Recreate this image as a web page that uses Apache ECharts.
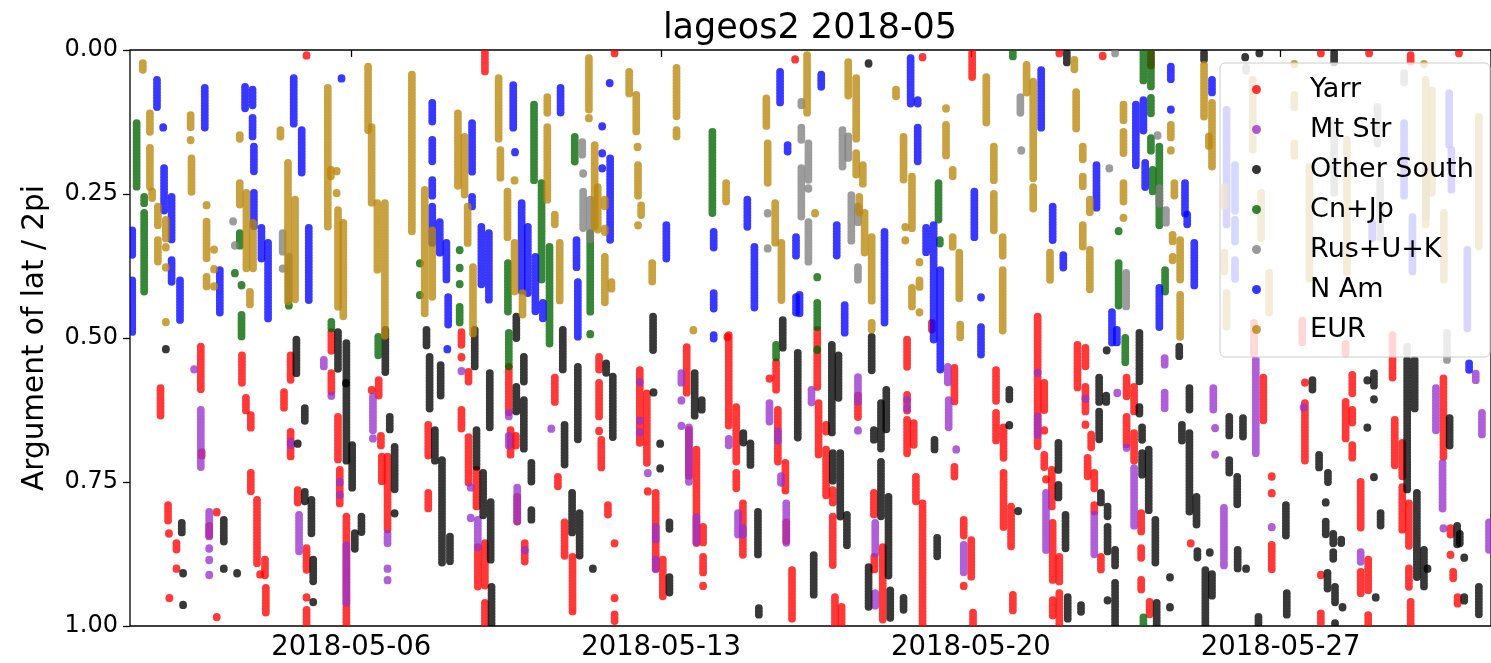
<!DOCTYPE html>
<html><head><meta charset="utf-8">
<script src="https://cdn.jsdelivr.net/npm/echarts@6.0.0/dist/echarts.min.js"></script>
<style>html,body{margin:0;padding:0;background:#fff}#c{width:1491px;height:663px}</style>
</head><body><div id="c"></div>
<script>
// Each pass = [day of May 2018 (fractional), arg-of-lat start, arg-of-lat end]
const yarr = [
[1.69,0.587,0.639],[1.86,0.790,0.821],[1.88,0.839,0.839],[1.89,0.951,0.951],[2.05,0.856,0.868],[2.05,0.900,0.900],
[2.60,0.515,0.590],[2.62,0.698,0.707],[2.96,0.802,0.802],[2.96,0.984,0.984],[2.79,0.826,0.845],
[3.53,0.530,0.578],[3.62,0.604,0.630],[3.73,0.634,0.656],[3.73,0.734,0.769],[3.87,0.781,0.891],[3.94,0.910,0.915],[4.05,0.885,0.915],[4.07,0.934,0.977],
[4.48,0.594,0.622],[4.63,0.530,0.573],[4.63,0.663,0.708],[4.79,0.764,0.787],[4.99,0.009,0.009],[4.99,0.865,0.903],[4.99,0.950,0.950],[4.99,0.972,1.0],
[5.55,0.490,0.526],[5.55,0.561,0.596],[5.70,0.637,0.712],[5.74,0.729,0.790],[5.89,0.810,1.0],
[6.46,0.590,0.590],[6.62,0.573,0.602],[6.67,0.670,0.690],[6.69,0.706,0.752],[6.82,0.706,0.833],
[7.74,0.651,0.706],[7.74,0.769,0.799],
[8.49,0.490,0.512],[8.49,0.533,0.533],[8.49,0.625,0.660],[8.65,0.559,0.578],[8.65,0.672,0.752],[8.83,0.729,0.793],[8.86,0.863,0.932],
[9.02,0.005,0.040],[9.02,0.856,0.932],[9.02,0.960,1.0],[9.56,0.550,0.630],[9.60,0.660,0.706],[9.72,0.670,0.690],[9.75,0.776,0.820],[9.92,0.856,0.891],
[10.60,0.569,0.611],[10.67,0.741,0.759],[10.82,0.820,0.880],[11.00,0.880,0.977],
[11.60,0.533,0.556],[11.60,0.578,0.637],[11.60,0.661,0.661],[11.65,0.677,0.729],[11.80,0.790,0.810],[11.95,0.005,0.005],[11.95,0.856,0.856],[11.95,0.951,0.951],[11.95,0.980,0.995],
[12.52,0.556,0.682],[12.68,0.596,0.717],[12.70,0.766,0.766],[12.88,0.769,0.903],[13.04,0.885,0.950],
[13.58,0.516,0.596],[13.63,0.660,0.740],[13.80,0.694,0.856],[13.95,0.828,0.856],[13.95,0.880,0.908],[13.95,0.930,0.930],
[14.50,0.498,0.498],[14.53,0.495,0.655],[14.70,0.620,0.717],[14.70,0.734,0.764],[14.85,0.787,0.880],
[15.45,0.570,0.570],[15.60,0.542,0.590],[15.64,0.625,0.717],[15.81,0.717,0.769],[15.83,0.820,0.856],[15.96,0.903,0.990],
[16.03,0.016,0.016],[16.53,0.486,0.585],[16.56,0.613,0.706],[16.73,0.651,0.665],[16.73,0.694,0.776],[16.88,0.764,0.787],[16.88,0.810,0.898],[16.93,0.950,1.0],[17.08,0.967,1.0],
[17.45,0.600,0.640],[17.81,0.769,0.810],[17.82,0.880,0.903],[18.01,0.863,0.990],
[18.56,0.503,0.550],[18.56,0.599,0.630],[18.56,0.642,0.700],[18.71,0.648,0.689],[18.76,0.741,0.787],[18.91,0.012,0.012],[18.91,0.787,1.0],
[19.12,0.474,0.486],[19.63,0.552,0.613],[19.63,0.724,0.741],[19.84,0.816,0.845],[19.84,0.930,0.930],[20.01,0.851,0.915],[20.03,0.005,0.047],[20.05,0.977,1.0],
[20.57,0.556,0.613],[20.57,0.630,0.682],[20.74,0.655,0.712],[20.74,0.734,0.828],[20.91,0.793,0.863],[20.95,0.946,0.976],
[21.51,0.463,0.689],[21.66,0.578,0.625],[21.66,0.660,0.660],[21.66,0.703,0.724],[21.70,0.745,0.745],[21.83,0.729,0.793],[21.85,0.821,0.920],[21.85,0.955,0.985],[22.00,0.005,0.005],[22.00,0.880,0.925],[22.00,0.943,1.0],
[22.41,0.512,0.590],[22.59,0.517,0.550],[22.59,0.585,0.630],[22.59,0.650,0.650],[22.64,0.708,0.741],[22.72,0.668,0.694],[22.79,0.734,0.764],[22.79,0.790,0.805],[22.94,0.880,0.903],[22.98,0.010,0.010],
[23.52,0.569,0.602],[23.52,0.637,0.689],[23.69,0.585,0.630],[23.69,0.665,0.717],[23.85,0.804,0.839],[23.85,0.865,0.885],[23.85,0.920,0.940],[24.04,0.958,0.981],[24.07,0.005,0.030],[24.97,0.856,0.856],
[26.40,0.474,0.530],[26.61,0.569,0.646],[26.80,0.740,0.740],[26.80,0.769,0.769],[26.80,0.859,0.903],
[27.49,0.470,0.510],[27.55,0.577,0.577],[27.55,0.613,0.717],[27.91,0.005,0.005],[27.91,0.911,0.911],[27.91,0.978,0.995],
[28.47,0.510,0.530],[28.47,0.611,0.677],[28.62,0.564,0.596],[28.62,0.625,0.648],[28.62,0.686,0.712],[28.81,0.750,0.830],[28.81,0.906,0.943],[28.98,0.885,0.938],[28.98,0.981,1.0],[29.00,0.005,0.005],
[29.53,0.495,0.573],[29.58,0.642,0.724],[29.75,0.682,0.741],[29.75,0.759,0.833],[29.90,0.787,0.863],[29.90,0.900,0.932],[29.94,0.009,0.023],[29.94,0.958,1.0],
[30.68,0.570,0.706],[30.84,0.830,0.845],[30.84,0.876,0.876],[30.90,0.906,0.920],[31.00,0.950,0.965],[31.03,0.005,0.005]
];
const mtStr = [
[2.45,0.554,0.554],[2.60,0.625,0.724],[2.79,0.802,0.845],[2.79,0.865,0.865],[2.79,0.885,0.885],[2.79,0.911,0.911],
[4.63,0.680,0.690],[4.82,0.807,0.874],[5.38,0.538,0.552],[5.55,0.600,0.600],[5.74,0.750,0.750],[5.74,0.772,0.772],[5.89,0.860,0.960],
[6.49,0.602,0.660],[6.49,0.674,0.674],[6.82,0.840,0.860],[6.82,0.900,0.900],[6.82,0.920,0.920],
[8.49,0.557,0.557],[8.70,0.759,0.759],[8.70,0.812,0.812],[8.86,0.816,0.868],
[9.56,0.630,0.640],[9.56,0.670,0.690],[9.75,0.760,0.820],[9.92,0.868,0.868],[10.52,0.657,0.657],
[12.52,0.576,0.576],[12.52,0.643,0.643],[12.52,0.663,0.663],[12.70,0.734,0.734],[12.88,0.828,0.850],[12.88,0.885,0.903],
[13.46,0.561,0.578],[13.46,0.608,0.608],[13.46,0.652,0.652],[13.63,0.655,0.752],[13.80,0.811,0.856],
[14.53,0.675,0.690],[14.74,0.804,0.845],[14.85,0.830,0.845],[15.45,0.613,0.648],[15.64,0.662,0.680],[15.71,0.740,0.755],[15.83,0.787,0.856],
[16.40,0.590,0.613],[17.45,0.568,0.613],[17.45,0.660,0.660],[17.84,0.821,0.874],[17.84,0.943,0.966],[18.56,0.607,0.607],[18.56,0.622,0.622],
[19.48,0.550,0.578],[19.50,0.608,0.655],[19.67,0.693,0.693],[19.84,0.859,0.911],
[21.51,0.560,0.560],[21.51,0.636,0.672],[21.70,0.769,0.868],[22.59,0.605,0.605],[22.79,0.807,0.877],[23.31,0.595,0.595],[23.52,0.690,0.690],[23.69,0.726,0.828],
[24.38,0.535,0.550],[24.38,0.595,0.625],[25.48,0.587,0.625],[25.52,0.656,0.656],[25.52,0.702,0.702],[25.72,0.795,0.899],
[26.44,0.538,0.700],[26.80,0.828,0.828],[27.52,0.620,0.620],[28.81,0.872,0.891],[30.51,0.587,0.660],[30.66,0.717,0.799],[30.68,0.830,0.830],[31.41,0.562,0.575],[31.55,0.630,0.668],[31.71,0.820,0.870]
];
const otherSouth = [
[1.81,0.519,0.519],[2.17,0.821,0.839],[2.20,0.908,0.908],[2.20,0.963,0.963],[3.12,0.816,0.856],[3.12,0.900,0.900],[3.42,0.908,0.908],
[4.76,0.503,0.561],[4.79,0.683,0.683],[4.95,0.622,0.648],[4.95,0.767,0.787],[5.10,0.781,0.839],[5.14,0.885,0.925],[5.14,0.958,0.958],
[5.70,0.490,0.556],[5.88,0.578,0.578],[5.89,0.509,0.717],[6.02,0.686,0.764],[6.08,0.839,0.868],[6.23,0.810,0.839],
[6.77,0.486,0.559],[6.87,0.637,0.660],[6.98,0.689,0.764],[6.98,0.804,0.804],
[7.70,0.486,0.516],[7.77,0.533,0.625],[8.02,0.547,0.600],[7.89,0.660,0.717],[8.05,0.712,0.891],[8.23,0.845,0.891],
[8.79,0.486,0.550],[8.83,0.660,0.724],[8.98,0.734,0.810],[9.13,0.561,0.655],[9.15,0.785,0.885],[9.17,0.932,1.0],
[9.73,0.463,0.500],[9.73,0.585,0.630],[9.90,0.533,0.578],[9.90,0.608,0.694],[10.07,0.717,0.752],[10.07,0.799,0.816],
[10.78,0.486,0.556],[10.82,0.651,0.720],[10.99,0.769,0.839],[11.16,0.804,0.880],[11.12,0.550,0.677],[11.46,0.900,0.900],[11.76,0.544,0.561],[11.91,0.567,0.672],
[12.82,0.463,0.521],[12.83,0.594,0.594],[12.98,0.683,0.683],[12.98,0.726,0.726],[13.19,0.820,0.833],[13.19,0.915,0.943],
[13.76,0.561,0.637],[13.92,0.608,0.625],[14.86,0.665,0.683],[15.02,0.683,0.724],[15.19,0.802,0.880],[15.21,0.969,0.984],[15.75,0.469,0.521],
[16.09,0.526,0.677],[16.45,0.877,0.946],[16.86,0.512,0.665],[17.01,0.530,0.608],[16.88,0.700,0.752],[17.05,0.700,0.810],[17.20,0.807,0.863],
[17.69,0.023,0.023],[17.69,0.898,0.967],[17.76,0.498,0.556],[17.81,0.660,0.677],[17.97,0.613,0.694],[17.97,0.715,0.810],[18.09,0.590,0.660],[18.14,0.776,0.915],[18.18,0.938,0.990],[18.48,0.951,0.972],
[19.18,0.677,0.694],[19.24,0.847,0.882],[20.87,0.590,0.608],[20.87,0.651,0.651],[21.07,0.800,0.800],
[21.98,0.682,0.729],[21.98,0.755,0.781],[22.14,0.807,0.868],[22.17,0.005,0.023],[22.19,0.950,0.990],[22.49,0.964,0.977],
[22.90,0.569,0.611],[22.90,0.628,0.677],[23.06,0.600,0.611],[22.94,0.769,0.787],[23.07,0.521,0.521],[23.09,0.793,0.810],[23.09,0.828,0.874],[23.09,0.955,0.955],[23.26,0.868,0.898],[23.26,0.925,1.0],
[23.81,0.491,0.578],[23.81,0.620,0.635],[23.87,0.655,0.677],[23.87,0.700,0.741],[24.02,0.694,0.799],[24.17,0.816,0.891],[24.20,0.960,1.0],[24.50,0.915,0.915],[24.50,0.967,0.967],
[24.71,0.515,0.535],[24.77,0.651,0.682],[24.94,0.587,0.628],[24.94,0.665,0.804],[25.10,0.776,0.825],[25.12,0.870,0.885],[25.27,0.005,0.020],[25.30,0.903,1.0],[25.40,0.872,0.872],[25.45,0.910,0.950],
[25.84,0.637,0.672],[25.84,0.712,0.734],[26.02,0.741,0.793],[26.03,0.868,0.900],[26.15,0.639,0.672],[26.20,0.012,0.012],[26.22,0.900,0.900],[26.50,0.984,1.0],[26.52,0.005,0.005],
[27.12,0.790,0.845],[27.14,0.943,0.984],[27.72,0.573,0.590],[27.87,0.703,0.729],[28.07,0.734,0.750],[28.02,0.785,0.785],[28.02,0.819,0.842],[28.19,0.840,0.860],[28.19,0.872,0.885],[28.37,0.850,0.860],
[28.06,0.908,0.938],[28.23,0.932,0.960],[28.40,0.967,0.967],[28.23,0.995,1.0],[28.21,0.005,0.023],
[28.96,0.573,0.573],[28.96,0.655,0.655],[29.11,0.561,0.585],[29.11,0.606,0.606],[29.11,0.741,0.741],[29.26,0.804,0.828],[29.15,0.950,0.950],
[29.86,0.538,0.764],[30.03,0.538,0.625],[30.08,0.769,0.915],[30.24,0.868,0.932],[30.32,0.900,0.900],[30.82,0.639,0.689],[30.99,0.826,0.860],[31.05,0.840,0.860],[31.15,0.881,0.881],[31.15,0.950,0.960],[31.48,0.932,0.984]
];
const cnJp = [
[1.15,0.127,0.238],[1.32,0.255,0.266],[1.32,0.283,0.422],[3.37,0.387,0.387],[3.48,0.318,0.342],[3.52,0.408,0.408],[3.52,0.460,0.498],[4.59,0.443,0.443],[5.55,0.472,0.486],
[6.61,0.498,0.533],[7.55,0.370,0.370],[7.55,0.425,0.425],[8.45,0.347,0.347],[8.45,0.378,0.378],[8.45,0.406,0.406],[8.45,0.446,0.474],
[9.54,0.370,0.457],[9.56,0.491,0.550],[10.13,0.095,0.226],[10.30,0.231,0.399],[10.48,0.342,0.512],[11.05,0.151,0.196],[11.40,0.318,0.455],[11.40,0.493,0.493],
[14.16,0.142,0.283],[15.60,0.512,0.535],[16.53,0.394,0.394],[16.53,0.439,0.481],[16.53,0.520,0.520],[19.27,0.231,0.295],[19.30,0.330,0.340],[20.95,0.005,0.014],
[23.34,0.314,0.314],[23.34,0.370,0.446],[23.49,0.500,0.542],[23.90,0.005,0.057],[23.90,0.985,1.0],[24.07,0.005,0.064],[24.07,0.083,0.113],[24.07,0.153,0.179],[24.11,0.208,0.248],[24.26,0.168,0.307],[24.39,0.382,0.422]
];
const rusUK = [
[3.33,0.297,0.297],[3.37,0.339,0.339],[4.45,0.318,0.352],[4.45,0.379,0.379],[4.59,0.359,0.434],
[11.22,0.160,0.186],[11.24,0.214,0.214],[11.24,0.246,0.309],[11.40,0.260,0.330],[15.41,0.283,0.283],[15.41,0.344,0.344],
[16.17,0.090,0.100],[16.17,0.135,0.156],[16.17,0.205,0.290],[16.33,0.162,0.226],[16.33,0.240,0.240],[16.33,0.299,0.370],
[17.10,0.139,0.205],[17.23,0.150,0.190],[17.30,0.252,0.335],[17.45,0.272,0.299],[17.45,0.377,0.399],
[21.12,0.082,0.113],[21.14,0.174,0.174],[23.13,0.205,0.205],[23.26,0.005,0.005],[23.51,0.387,0.446],[24.22,0.148,0.148],[24.26,0.240,0.270],[24.41,0.278,0.304],
[26.22,0.030,0.040],[28.21,0.127,0.248],[29.19,0.099,0.162],[29.25,0.226,0.330],[29.79,0.040,0.057],[29.86,0.515,0.526],[30.29,0.226,0.290],[30.76,0.491,0.538]
];
const nAm = [
[1.05,0.313,0.359],[1.05,0.400,0.490],[1.61,0.052,0.099],[1.75,0.134,0.134],[1.77,0.205,0.283],[1.94,0.255,0.330],[1.94,0.365,0.405],[2.13,0.400,0.469],[2.69,0.066,0.136],[3.03,0.382,0.457],
[3.60,0.064,0.104],[3.77,0.069,0.099],[3.77,0.118,0.151],[3.80,0.168,0.214],[3.80,0.248,0.307],[3.97,0.309,0.365],[4.12,0.335,0.469],[4.70,0.049,0.130],[4.88,0.139,0.217],[5.04,0.309,0.434],[5.78,0.049,0.049],
[7.83,0.092,0.127],[7.83,0.156,0.196],[7.83,0.226,0.255],[7.83,0.272,0.335],[8.00,0.299,0.352],[8.15,0.335,0.399],[8.19,0.429,0.481],[8.17,0.519,0.519],
[8.73,0.127,0.214],[8.73,0.255,0.272],[8.94,0.307,0.411],[9.11,0.318,0.434],[9.66,0.061,0.139],[9.70,0.177,0.177],[9.85,0.266,0.422],[9.99,0.307,0.422],[10.16,0.359,0.457],[10.33,0.439,0.469],[10.73,0.066,0.109],
[11.09,0.330,0.377],[11.12,0.403,0.498],[11.67,0.132,0.132],[11.67,0.179,0.179],[11.67,0.205,0.205],[11.84,0.057,0.057],[11.85,0.188,0.330],
[13.12,0.304,0.365],[14.19,0.316,0.347],[14.19,0.422,0.451],[14.19,0.495,0.503],[14.95,0.260,0.307],[15.11,0.342,0.448],[15.69,0.038,0.092],[15.86,0.165,0.179],
[16.05,0.325,0.359],[16.05,0.429,0.457],[16.13,0.425,0.457],[16.62,0.043,0.064],[16.97,0.304,0.359],[17.15,0.443,0.491],[18.05,0.316,0.474],
[18.64,0.014,0.095],[18.80,0.087,0.095],[18.80,0.135,0.194],[18.99,0.309,0.351],[19.16,0.304,0.503],[19.31,0.382,0.556],[20.08,0.246,0.326],[20.23,0.429,0.429],[20.23,0.481,0.533],
[21.59,0.035,0.139],[21.85,0.272,0.330],[22.09,0.356,0.378],[22.84,0.200,0.278],[23.19,0.455,0.512],[23.30,0.486,0.512],[23.73,0.095,0.200],[23.90,0.087,0.144],[23.94,0.196,0.238],
[24.26,0.413,0.481],[24.52,0.029,0.052],[24.52,0.103,0.103],[24.84,0.231,0.286],[24.89,0.286,0.304],[25.05,0.335,0.411],[25.45,0.052,0.078],
[25.78,0.104,0.307],[25.97,0.200,0.280],[25.97,0.295,0.335],[25.97,0.365,0.399],[29.07,0.300,0.330],[29.79,0.127,0.255],[29.98,0.290,0.387],[30.81,0.075,0.168],[30.86,0.174,0.243],[31.22,0.347,0.486],[31.26,0.544,0.556]
];
const eur = [
[1.29,0.023,0.038],[1.45,0.110,0.145],[1.45,0.170,0.238],[1.50,0.246,0.257],[1.63,0.272,0.307],[1.63,0.330,0.370],[1.81,0.295,0.330],[1.81,0.342,0.342],[1.81,0.377,0.377],[1.81,0.472,0.472],
[2.37,0.113,0.134],[2.37,0.156,0.156],[2.39,0.188,0.248],[2.73,0.269,0.269],[2.73,0.298,0.365],[2.73,0.394,0.413],[2.90,0.346,0.346],[2.90,0.380,0.380],[2.90,0.410,0.410],
[3.48,0.148,0.156],[3.48,0.231,0.272],[3.63,0.248,0.382],[3.78,0.300,0.380],[3.71,0.420,0.446],[4.40,0.139,0.153],[4.57,0.196,0.439],[4.73,0.260,0.434],
[5.47,0.066,0.307],[5.54,0.208,0.220],[5.67,0.210,0.210],[5.67,0.248,0.248],[5.70,0.278,0.446],[5.82,0.300,0.463],
[6.38,0.029,0.139],[6.46,0.134,0.266],[6.59,0.266,0.382],[6.76,0.266,0.498],[7.37,0.043,0.318],[7.66,0.243,0.457],[7.83,0.313,0.429],
[8.41,0.110,0.238],[8.56,0.151,0.255],[8.63,0.272,0.335],[8.75,0.377,0.492],[9.33,0.049,0.156],[9.37,0.174,0.226],[9.53,0.246,0.325],[9.69,0.226,0.226],[9.69,0.335,0.422],[9.87,0.422,0.463],
[10.43,0.082,0.110],[10.43,0.134,0.260],[10.60,0.286,0.304],[10.71,0.335,0.439],
[11.37,0.014,0.104],[11.37,0.118,0.118],[11.50,0.165,0.307],[11.57,0.238,0.313],[11.73,0.260,0.272],[11.73,0.310,0.318],[11.73,0.359,0.439],[11.88,0.403,0.416],
[12.28,0.038,0.078],[12.44,0.078,0.145],[12.47,0.168,0.168],[12.48,0.200,0.255],[12.55,0.270,0.290],[12.48,0.304,0.304],[12.80,0.370,0.405],[13.35,0.031,0.118],[13.35,0.139,0.153],[13.73,0.486,0.486],
[14.47,0.231,0.266],[15.38,0.084,0.134],[15.41,0.162,0.231],[15.58,0.266,0.335],[15.72,0.335,0.434],
[16.30,0.009,0.110],[16.48,0.283,0.283],[17.23,0.021,0.083],[17.41,0.049,0.156],[17.41,0.179,0.220],[17.56,0.200,0.234],[17.48,0.255,0.283],[17.60,0.283,0.352],[17.76,0.325,0.439],[17.76,0.474,0.486],
[18.31,0.069,0.081],[18.48,0.151,0.226],[18.52,0.307,0.307],[18.52,0.330,0.330],[18.67,0.220,0.313],[18.67,0.413,0.446],[18.84,0.368,0.368],[18.84,0.400,0.413],[18.84,0.455,0.455],
[19.44,0.101,0.101],[19.44,0.130,0.186],[19.59,0.208,0.220],[19.59,0.325,0.342],[19.74,0.352,0.434],[19.76,0.477,0.503],
[20.35,0.047,0.127],[20.52,0.168,0.226],[20.52,0.250,0.313],[20.72,0.325,0.359],[20.72,0.382,0.491],
[21.26,0.026,0.075],[21.41,0.055,0.226],[21.41,0.238,0.278],[21.79,0.352,0.399],[22.34,0.017,0.035],[22.38,0.073,0.139],[22.53,0.168,0.191],[22.53,0.220,0.238],[22.53,0.304,0.344],[22.69,0.260,0.286],[22.69,0.347,0.417],
[23.45,0.095,0.122],[23.45,0.142,0.179],[23.45,0.231,0.266],[23.45,0.291,0.291],[24.52,0.130,0.153],[24.52,0.174,0.174],[24.60,0.231,0.255],[24.56,0.321,0.335],[24.56,0.359,0.368],[24.73,0.330,0.399],[24.73,0.425,0.498],
[25.27,0.026,0.116],[25.38,0.150,0.170],[25.45,0.092,0.203],[25.73,0.238,0.272],[25.73,0.352,0.387],[25.78,0.422,0.481],
[26.37,0.052,0.174],[26.56,0.248,0.330],[26.74,0.387,0.457],[27.31,0.024,0.024],[27.31,0.078,0.099],[27.31,0.162,0.186],[27.65,0.203,0.399],[28.50,0.156,0.387],
[30.24,0.024,0.024],[30.28,0.052,0.307],[30.42,0.070,0.250],[30.69,0.283,0.399],[31.48,0.116,0.342]
];

const seriesNames = ['Yarr', 'Mt Str', 'Other South', 'Cn+Jp', 'Rus+U+K', 'N Am', 'EUR'];
const seriesData = [yarr, mtStr, otherSouth, cnJp, rusUK, nAm, eur];
const seriesColors = ['#ff0000', '#9932cc', '#000000', '#006400', '#808080', '#0000ff', '#b8860b'];
const xTickDays = [6, 13, 20, 27];
const titleText = 'lageos2 2018-05';
const yName = 'Argument of lat / 2pi';

const FONT = 'DejaVu Sans';
const chart = echarts.init(document.getElementById('c'), null, {renderer: 'canvas'});

function makeRender(color) {
  return function (params, api) {
    const x = api.value(0), a = api.value(1), b = api.value(2);
    const p0 = api.coord([x, a]);
    const p1 = api.coord([x, b]);
    return {
      type: 'line',
      shape: {x1: p0[0], y1: p0[1], x2: p1[0], y2: p1[1] + (a === b ? 0.5 : 0)},
      style: {stroke: color, lineWidth: 7.8, lineCap: 'round', lineDash: [0.5, 2.5], opacity: 0.78, fill: null}
    };
  };
}

const series = seriesNames.map((name, i) => ({
  type: 'custom',
  name: name,
  data: seriesData[i],
  encode: {x: 0, y: [1, 2]},
  clip: true,
  itemStyle: {color: seriesColors[i]},
  renderItem: makeRender(seriesColors[i]),
  z: 2 + i
}));

chart.setOption({
  animation: false,
  backgroundColor: '#ffffff',
  title: {
    text: titleText, left: 810, top: 11, textAlign: 'center', padding: 0,
    textStyle: {fontFamily: FONT, fontSize: 35, fontWeight: 'normal', color: '#000'}
  },
  grid: {left: 130, top: 50, width: 1362, height: 576, show: true, borderColor: '#000', borderWidth: 1.3, backgroundColor: 'transparent'},
  xAxis: {
    type: 'value', min: 1, max: 1 + 1362 / 44.286,
    axisLine: {show: false},
    splitLine: {show: false},
    axisTick: {show: true, customValues: xTickDays, length: 7, lineStyle: {color: '#000', width: 1.3}},
    axisLabel: {customValues: xTickDays, margin: 8, fontFamily: FONT, fontSize: 27.5, color: '#000',
      formatter: v => '2018-05-' + String(Math.round(v)).padStart(2, '0')}
  },
  yAxis: {
    type: 'value', inverse: true, min: 0, max: 1, interval: 0.25,
    name: yName, nameLocation: 'middle', nameGap: 80, nameRotate: 90,
    nameTextStyle: {fontFamily: FONT, fontSize: 29.5, color: '#000'},
    axisLine: {show: false},
    splitLine: {show: false},
    axisTick: {show: true, length: 7, lineStyle: {color: '#000', width: 1.3}},
    axisLabel: {margin: 12, fontFamily: FONT, fontSize: 24, color: '#000', formatter: v => v.toFixed(2)}
  },
  // legend frame (translucent box behind the legend entries)
  graphic: [{
    type: 'rect', z: 15, silent: true,
    shape: {x: 1220, y: 63, width: 270, height: 294, r: 5},
    style: {fill: 'rgba(255,255,255,0.8)', stroke: '#cccccc', lineWidth: 1}
  }],
  legend: {
    orient: 'vertical', left: 1252, top: 63,
    padding: [13, 0, 13, 0],
    itemWidth: 80, itemHeight: 9, itemGap: 13,
    icon: 'circle',
    textStyle: {fontFamily: FONT, fontSize: 27, color: '#000', lineHeight: 27},
    formatter: n => ' ' + n,
    data: seriesNames.map((n, i) => ({name: n, itemStyle: {color: seriesColors[i], opacity: 0.8}})),
    z: 20
  },
  series: series
});
</script>
</body></html>
